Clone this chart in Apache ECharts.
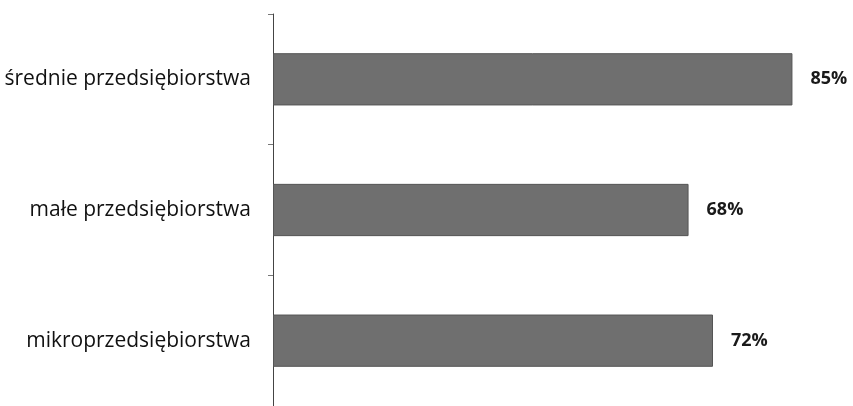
<!DOCTYPE html>
<html>
<head>
<meta charset="utf-8">
<script src="https://cdn.jsdelivr.net/npm/echarts@6/dist/echarts.min.js"></script>
<style>
    html, body { margin: 0; padding: 0; background: #fff; }
    #chart { width: 853px; height: 406px; }
</style>
</head>
<body>
<div id="chart"></div>
<script>
'use strict';

const categories = ['średnie przedsiębiorstwa', 'małe przedsiębiorstwa', 'mikroprzedsiębiorstwa'];
const shares = [85, 68, 72];

document.addEventListener('DOMContentLoaded', () => {
    const chart = echarts.init(document.getElementById('chart'));

    chart.setOption({
        animation: false,
        grid: { left: 273, right: 30, top: 14, bottom: 0 },
        xAxis: {
            type: 'value',
            min: 0,
            max: 90,
            show: false
        },
        yAxis: {
            type: 'category',
            data: categories,
            inverse: true,
            axisLine: { lineStyle: { color: '#444', width: 1 } },
            axisTick: { show: true, inside: false, length: 5, lineStyle: { color: '#777' } },
            axisLabel: {
                margin: 22,
                color: '#111',
                fontSize: 21,
                fontWeight: 500,
                fontFamily: 'Open Sans'
            }
        },
        series: [{
            type: 'bar',
            data: shares,
            barWidth: '40%',
            itemStyle: { color: '#6f6f6f', borderColor: '#555', borderWidth: 1 },
            label: {
                show: true,
                position: 'right',
                distance: 18,
                formatter: '{c}%',
                color: '#1a1a1a',
                fontSize: 18,
                fontWeight: 'bold',
                fontFamily: 'Open Sans'
            }
        }]
    });
});
</script>
</body>
</html>
